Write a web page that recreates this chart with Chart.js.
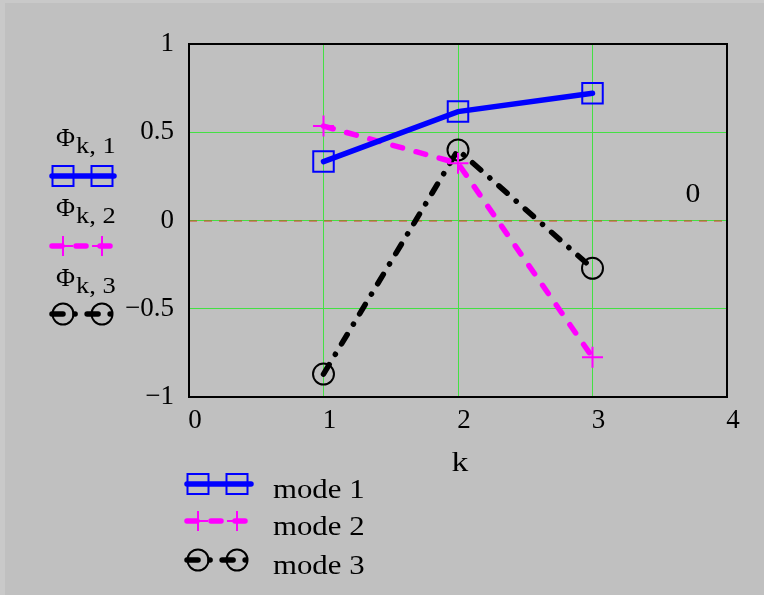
<!DOCTYPE html>
<html>
<head>
<meta charset="utf-8">
<script src="https://cdn.jsdelivr.net/npm/chart.js@4.4.1/dist/chart.umd.min.js"></script>
<style>
  html, body { margin: 0; padding: 0; background: #c0c0c0; }
  #wrap { position: relative; width: 764px; height: 595px; box-sizing: border-box;
          border-left: 5px solid #c9c9c9; border-top: 3px solid #c9c9c9; }
  canvas { position: absolute; left: -5px; top: -3px; }
</style>
</head>
<body>
<div id="wrap"><canvas id="chart" width="764" height="595"></canvas></div>
<script>
// Datos
const kValues = [1, 2, 3];
const mode1 = [0.334, 0.617, 0.721];
const mode2 = [0.535, 0.324, -0.775];
const mode3 = [-0.87, 0.40, -0.271];
const seriesNames = ['mode 1', 'mode 2', 'mode 3'];
const subLabels = ['k, 1', 'k, 2', 'k, 3'];
const xTicks = [0, 1, 2, 3, 4];
const yTicks = [-1, -0.5, 0, 0.5, 1];
const markerValue = 0;

const FONT = '"Liberation Serif", "DejaVu Serif", serif';
const BLUE = '#0000ff', MAGENTA = '#ff00ff', BLACK = '#000000';

const estilos = [
    { color: BLUE, dash: [], shape: 'rect' },
    { color: MAGENTA, dash: [10, 14], shape: 'cross' },
    { color: BLACK, dash: [11, 12, 0.1, 12], shape: 'circle' }
];

const toPoints = vals => kValues.map((k, i) => ({ x: k, y: vals[i] }));

// texto algo ensanchado como en el original
function texto(ctx, str, x, y, size, sx, align) {
    ctx.save();
    ctx.font = size + 'px ' + FONT;
    ctx.textAlign = align || 'left';
    ctx.translate(x, y);
    ctx.scale(sx, 1);
    ctx.fillText(str, 0, 0);
    ctx.restore();
}

function marcador(ctx, shape, color, x, y) {
    ctx.save();
    ctx.setLineDash([]);
    ctx.strokeStyle = color;
    ctx.lineWidth = 2;
    ctx.beginPath();
    if (shape === 'rect') {
        ctx.rect(x - 10.5, y - 10, 21, 20);
    } else if (shape === 'cross') {
        ctx.moveTo(x - 10, y); ctx.lineTo(x + 10, y);
        ctx.moveTo(x, y - 10); ctx.lineTo(x, y + 10);
    } else {
        ctx.arc(x, y, 10.5, 0, Math.PI * 2);
    }
    ctx.stroke();
    ctx.restore();
}

function muestra(ctx, i, x0, x1, y) {
    const e = estilos[i];
    ctx.save();
    ctx.strokeStyle = e.color;
    ctx.lineWidth = 5.5;
    ctx.lineCap = 'round';
    ctx.setLineDash(e.dash);
    ctx.beginPath();
    ctx.moveTo(x0, y); ctx.lineTo(x1, y);
    ctx.stroke();
    ctx.restore();
    marcador(ctx, e.shape, e.color, x0 + 11, y);
    marcador(ctx, e.shape, e.color, x0 + 50, y);
}

const extras = {
    id: 'extras',
    beforeDatasetsDraw(chart) {
        const ctx = chart.ctx;
        const y0 = chart.scales.y.getPixelForValue(markerValue);
        const a = chart.chartArea;
        ctx.save();
        ctx.strokeStyle = '#d0401a';
        ctx.lineWidth = 1;
        ctx.setLineDash([8, 7]);
        ctx.beginPath();
        ctx.moveTo(a.left, y0 + 0.5); ctx.lineTo(a.right, y0 + 0.5);
        ctx.stroke();
        ctx.restore();
    },
    afterDraw(chart) {
        const ctx = chart.ctx;
        const a = chart.chartArea;
        ctx.save();
        ctx.strokeStyle = '#000';
        ctx.lineWidth = 2;
        ctx.strokeRect(a.left, a.top, a.right - a.left, a.bottom - a.top);

        ctx.fillStyle = '#000';
        ctx.textBaseline = 'alphabetic';
        // etiqueta del marcador y titulo eje x
        texto(ctx, String(markerValue), 693, 202, 27, 1.1, 'center');
        texto(ctx, 'k', chart.scales.x.getPixelForValue(2) + 2, 471, 28, 1.2, 'center');

        // leyenda izquierda
        const bases = [146, 216, 286];
        const lineasY = [176, 246, 314];
        for (let i = 0; i < 3; i++) {
            texto(ctx, '\u03A6', 56, bases[i], 26, 1.0);
            texto(ctx, subLabels[i], 76, bases[i] + 7, 23, 1.15);
            muestra(ctx, i, 52, 114, lineasY[i]);
        }

        // leyenda inferior
        const filas = [484, 521, 560];
        for (let i = 0; i < 3; i++) {
            muestra(ctx, i, 187, 251, filas[i]);
            texto(ctx, seriesNames[i], 273, filas[i] + 14, 28, 1.1);
        }
        ctx.restore();
    }
};

const datasets = [mode1, mode2, mode3].map((vals, i) => ({
    label: seriesNames[i],
    data: toPoints(vals),
    borderColor: estilos[i].color,
    backgroundColor: 'transparent',
    borderWidth: 5.5,
    borderDash: estilos[i].dash,
    borderCapStyle: 'round',
    pointStyle: estilos[i].shape,
    pointRadius: estilos[i].shape === 'rect' ? 14.5 : 10.5,
    pointBorderWidth: 2,
    pointBorderColor: estilos[i].color,
    pointBackgroundColor: 'transparent',
    tension: 0
}));

new Chart(document.getElementById('chart'), {
    type: 'line',
    data: { datasets: datasets },
    plugins: [extras],
    options: {
        responsive: false,
        animation: false,
        layout: { padding: { top: 44, right: 37, left: 0, bottom: 0 } },
        plugins: { legend: { display: false }, tooltip: { enabled: false } },
        scales: {
            x: {
                type: 'linear', min: 0, max: 4,
                afterFit: s => { s.height = 198; },
                afterBuildTicks: s => { s.ticks = xTicks.map(v => ({ value: v })); },
                grid: { color: '#44e044', lineWidth: 1, drawTicks: false },
                border: { display: false },
                ticks: {
                    color: '#000', padding: 8, labelOffset: 6, maxRotation: 0,
                    font: { family: FONT, size: 27 }
                }
            },
            y: {
                type: 'linear', min: -1, max: 1,
                afterFit: s => { s.width = 189; },
                afterBuildTicks: s => { s.ticks = yTicks.map(v => ({ value: v })); },
                grid: { color: '#44e044', lineWidth: 1, drawTicks: false },
                border: { display: false },
                ticks: {
                    color: '#000', padding: 15,
                    font: { family: FONT, size: 27 },
                    callback: v => String(v).replace('-', '\u2212')
                }
            }
        }
    }
});
</script>
</body>
</html>
